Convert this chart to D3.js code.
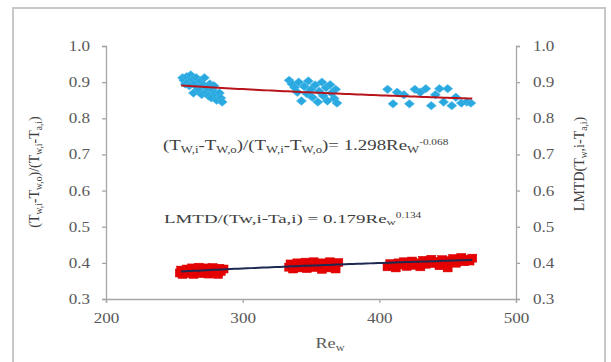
<!DOCTYPE html>
<html>
<head>
<meta charset="utf-8">
<script src="https://cdn.jsdelivr.net/npm/d3@7"></script>
<style>
  html, body { margin: 0; padding: 0; background: #fff; }
  svg { display: block; }
  text { font-family: "Liberation Serif", "Times New Roman", serif; }
</style>
</head>
<body>
<svg id="chart" width="611" height="362"></svg>
<script>
// Effectiveness ratio (Tw,i-Tw,o)/(Tw,i-Ta,i) against water Reynolds number
const ratioRe = [256, 257, 258, 259, 260, 261, 262, 263, 264, 265, 266, 267, 268, 269, 270, 271, 272, 273, 274, 275, 276, 277, 278, 279, 280, 281, 283, 284, 285,
  334, 336, 338, 340, 341, 343, 345, 347, 348, 350, 351, 353, 355, 356, 358, 359, 361, 362, 364, 365, 367, 368, 369,
  406, 410, 413, 418, 422, 426, 430, 434, 438, 441, 444, 447, 450, 453, 456, 460, 464, 467];
const ratioVal = [0.912, 0.905, 0.895, 0.915, 0.900, 0.890, 0.920, 0.908, 0.870, 0.898, 0.912, 0.885, 0.878, 0.903, 0.866, 0.893, 0.912, 0.872, 0.884, 0.862, 0.895, 0.857, 0.878, 0.890, 0.868, 0.850, 0.870, 0.856, 0.845,
  0.905, 0.895, 0.885, 0.872, 0.900, 0.848, 0.888, 0.868, 0.903, 0.880, 0.858, 0.892, 0.845, 0.875, 0.900, 0.862, 0.885, 0.848, 0.893, 0.870, 0.855, 0.880, 0.842,
  0.880, 0.840, 0.872, 0.865, 0.840, 0.880, 0.872, 0.882, 0.835, 0.865, 0.882, 0.845, 0.882, 0.835, 0.858, 0.842, 0.845, 0.842];

// LMTD/(Tw,i-Ta,i) against water Reynolds number
const lmtdRe = [254, 255, 256, 258, 259, 260, 262, 263, 264, 266, 267, 268, 270, 271, 272, 274, 275, 276, 278, 279, 280, 282, 283, 284, 286,
  334, 335, 337, 338, 340, 341, 343, 344, 346, 347, 349, 350, 352, 353, 355, 356, 358, 359, 361, 362, 364, 365, 367, 368, 370,
  406, 408, 410, 412, 414, 416, 418, 420, 422, 424, 426, 428, 430, 432, 434, 436, 438, 440, 442, 444, 446, 448, 450, 452, 454, 456, 458, 460, 462, 464, 466, 468];
const lmtdVal = [0.372, 0.380, 0.368, 0.377, 0.383, 0.371, 0.379, 0.386, 0.368, 0.381, 0.375, 0.388, 0.370, 0.383, 0.377, 0.386, 0.369, 0.380, 0.387, 0.374, 0.382, 0.368, 0.385, 0.376, 0.383,
  0.388, 0.397, 0.383, 0.392, 0.400, 0.386, 0.395, 0.389, 0.402, 0.384, 0.396, 0.391, 0.403, 0.387, 0.398, 0.392, 0.382, 0.400, 0.394, 0.386, 0.403, 0.390, 0.397, 0.383, 0.401,
  0.389, 0.398, 0.392, 0.386, 0.400, 0.394, 0.403, 0.390, 0.397, 0.405, 0.393, 0.400, 0.389, 0.407, 0.396, 0.402, 0.410, 0.398, 0.404, 0.392, 0.409, 0.401, 0.386, 0.406, 0.412, 0.399, 0.408, 0.415, 0.403, 0.410, 0.405, 0.413];

// Power-law trendlines y = a * Re^b
const ratioFit = { a: 1.298, b: -0.068 };
const lmtdFit = { a: 0.179, b: 0.134 };
const fitRange = [255, 468];

const xTicks = [200, 300, 400, 500];
const yTicks = [0.3, 0.4, 0.5, 0.6, 0.7, 0.8, 0.9, 1.0];

const svg = d3.select("#chart");
const axisColor = "#a6a6a6";
const textColor = "#595959";
const widen = 1.3; // type in this figure is set wide

// stretch a text element horizontally while keeping its anchor
function stretch(sel, k) {
  sel.each(function () {
    const len = this.getComputedTextLength();
    d3.select(this).attr("textLength", len * (k || widen)).attr("lengthAdjust", "spacingAndGlyphs");
  });
}

// outer chart frame
svg.append("rect")
  .attr("x", 13).attr("y", 8)
  .attr("width", 592).attr("height", 380)
  .attr("fill", "none").attr("stroke", "#c8c8c8").attr("stroke-width", 2);

const x = d3.scaleLinear().domain([200, 500]).range([106, 516]);
const y = d3.scaleLinear().domain([0.3, 1.0]).range([299, 46]);

function styleAxis(g) {
  g.select(".domain").attr("stroke", axisColor).attr("stroke-width", 1.3);
  g.selectAll(".tick line").attr("stroke", axisColor).attr("stroke-width", 1.3);
  g.selectAll(".tick text").attr("fill", textColor).style("font-size", "14px")
    .style("font-family", "'Liberation Serif', serif")
    .call(stretch, 1.22);
}

svg.append("g").attr("transform", "translate(0,299)")
  .call(d3.axisBottom(x).tickValues(xTicks).tickFormat(d3.format("d")).tickSizeOuter(0).tickSize(4).tickPadding(10))
  .call(styleAxis);
svg.append("g").attr("transform", "translate(106,0)")
  .call(d3.axisLeft(y).tickValues(yTicks).tickFormat(d3.format(".1f")).tickSizeOuter(0).tickSize(4).tickPadding(12))
  .call(styleAxis);
svg.append("g").attr("transform", "translate(516,0)")
  .call(d3.axisRight(y).tickValues(yTicks).tickFormat(d3.format(".1f")).tickSizeOuter(0).tickSize(4).tickPadding(13))
  .call(styleAxis);

// data markers
const ratioPts = ratioRe.map((r, i) => [r, ratioVal[i]]);
const lmtdPts = lmtdRe.map((r, i) => [r, lmtdVal[i]]);
const diamond = "M0,-4.2L5,0L0,4.2L-5,0Z";

svg.append("g").selectAll("path").data(ratioPts).enter().append("path")
  .attr("d", diamond)
  .attr("transform", d => `translate(${x(d[0])},${y(d[1])})`)
  .attr("fill", "#2aa9e0").attr("stroke", "#45b8ea").attr("stroke-width", 0.6);

svg.append("g").selectAll("rect").data(lmtdPts).enter().append("rect")
  .attr("x", d => x(d[0]) - 4.5).attr("y", d => y(d[1]) - 4)
  .attr("width", 9).attr("height", 8)
  .attr("fill", "#e80000").attr("stroke", "#d40000").attr("stroke-width", 0.5);

// trendlines
function fitLine(fit) {
  const pts = [];
  for (let r = fitRange[0]; r <= fitRange[1]; r += 3) pts.push([r, fit.a * Math.pow(r, fit.b)]);
  pts.push([fitRange[1], fit.a * Math.pow(fitRange[1], fit.b)]);
  return pts;
}
const line = d3.line().x(d => x(d[0])).y(d => y(d[1]));
svg.append("path").attr("d", line(fitLine(ratioFit)))
  .attr("fill", "none").attr("stroke", "#b8141c").attr("stroke-width", 2);
svg.append("path").attr("d", line(fitLine(lmtdFit)))
  .attr("fill", "none").attr("stroke", "#1c2a52").attr("stroke-width", 2);

// equations
function seg(t, s, kind) {
  const ts = t.append("tspan").text(s);
  if (kind === "sub") ts.attr("baseline-shift", "-25%").style("font-size", "0.68em");
  if (kind === "sup") ts.attr("baseline-shift", "60%").style("font-size", "0.6em");
  return ts;
}
const eq1 = svg.append("text").attr("x", 163).attr("y", 150)
  .attr("fill", "#404040").style("font-size", "14.5px");
seg(eq1, "(T"); seg(eq1, "W,i", "sub"); seg(eq1, "-T"); seg(eq1, "W,o", "sub");
seg(eq1, ")/(T"); seg(eq1, "W,i", "sub"); seg(eq1, "-T"); seg(eq1, "W,o", "sub");
seg(eq1, ")= " + ratioFit.a.toFixed(3) + "Re"); seg(eq1, "W", "sub"); seg(eq1, String(ratioFit.b), "sup");
eq1.call(stretch, 1.3);

const eq2 = svg.append("text").attr("x", 164).attr("y", 223)
  .attr("fill", "#404040").style("font-size", "13.5px");
seg(eq2, "LMTD/(Tw,i-Ta,i) = " + lmtdFit.a.toFixed(3) + "Re"); seg(eq2, "w", "sub"); seg(eq2, String(lmtdFit.b), "sup");
eq2.call(stretch, 1.4);

// axis titles
const xt = svg.append("text").attr("x", 330).attr("y", 348).attr("text-anchor", "middle")
  .attr("fill", textColor).style("font-size", "14px");
seg(xt, "Re"); seg(xt, "w", "sub");
xt.call(stretch, 1.3);

const yl = svg.append("text").attr("transform", "translate(39,172) rotate(-90)")
  .attr("text-anchor", "middle").attr("fill", "#404040").style("font-size", "14px");
seg(yl, "(T"); seg(yl, "w,i", "sub"); seg(yl, "-T"); seg(yl, "w,o", "sub");
seg(yl, ")/(T"); seg(yl, "w,i", "sub"); seg(yl, "-T"); seg(yl, "a,i", "sub"); seg(yl, ")");

const yr = svg.append("text").attr("transform", "translate(584,164) rotate(-90)")
  .attr("text-anchor", "middle").attr("fill", "#404040").style("font-size", "14px");
seg(yr, "LMTD(T"); seg(yr, "w", "sub"); seg(yr, ",i-T"); seg(yr, "a,i", "sub"); seg(yr, ")");
</script>
</body>
</html>
